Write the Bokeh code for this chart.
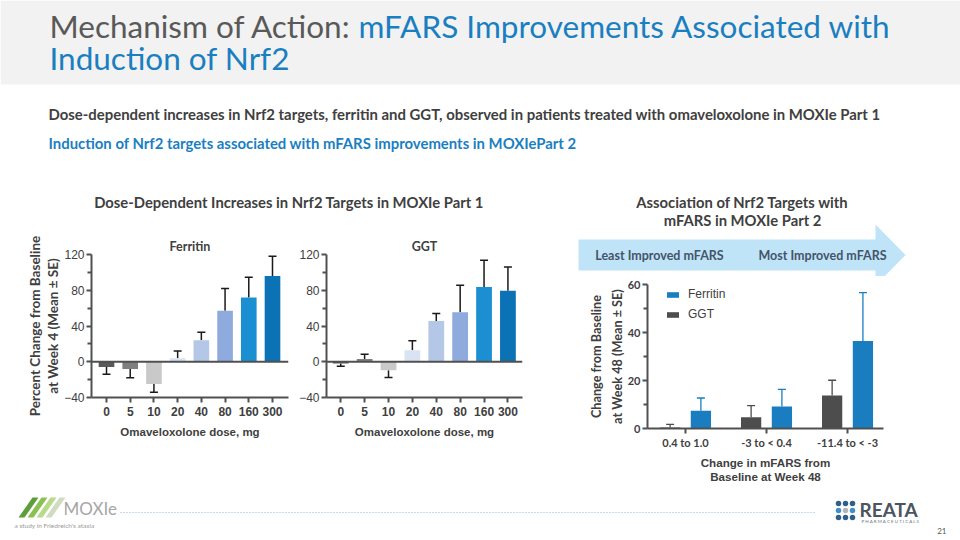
from bokeh.plotting import figure
from bokeh.layouts import column, row
from bokeh.models import (Range1d, FixedTicker, Span, Legend, LegendItem,
                          ColumnDataSource, Whisker, TeeHead)
from bokeh.core.properties import value
from bokeh.embed import file_html
from bokeh.resources import INLINE

# ---------------- data ----------------
doses = ["0", "5", "10", "20", "40", "80", "160", "300"]
ferritin_mean = [-6, -8, -25, 4, 24, 57, 72, 96]
ferritin_se = [8, 10, 9, 8, 9, 25, 22.5, 22]
ggt_mean = [-2, 3, -9.5, 13, 45.5, 55.5, 83.5, 79.5]
ggt_se = [3, 5.5, 8, 10.5, 8.5, 30, 30, 26.5]
dose_colors = ["#595959", "#7f7f7f", "#c9c9c9", "#dae3f3",
               "#b4c7e7", "#8faadc", "#1b8fd1", "#0b72b5"]

mfars_groups = ["0.4 to 1.0", "-3 to < 0.4", "-11.4 to < -3"]
p2_ferritin_mean = [7.4, 9.2, 36.5]
p2_ferritin_se = [5.3, 7.1, 20.1]
p2_ggt_mean = [0.4, 4.7, 13.7]
p2_ggt_se = [1.3, 4.8, 6.4]

left_ticks = [-40, 0, 40, 80, 120]
left_minor = [-20, 20, 60, 100]
right_ticks = [0, 20, 40, 60]
right_minor = [10, 30, 50]

# ---------------- styles ----------------
TXT = "#404040"
BLUE = "#1a7fc1"
AX = "#505050"
CAL = "Lato"
ARL = "Liberation Sans"


def deco(w, h, x0, y0):
    p = figure(width=w, height=h, x_range=Range1d(x0, x0 + w),
               y_range=Range1d(y0 + h, y0), output_backend="svg",
               toolbar_location=None, min_border=0,
               x_axis_type=None, y_axis_type=None)
    p.outline_line_color = None
    p.grid.visible = False
    return p


def txt(p, x, y, s, size, color, bold=False, align="left",
        baseline="middle", font=CAL):
    p.text(x=[x], y=[y], text=[s], text_font=value(font),
           text_font_size=f"{size}px", text_color=color,
           text_font_style="bold" if bold else "normal",
           text_align=align, text_baseline=baseline)


# ---------------- header ----------------
hdr = deco(960, 185, 0, 0)
hdr.quad(left=[0], right=[960], top=[0], bottom=[84],
         fill_color="#f2f2f2", line_color=None)
txt(hdr, 49, 25.5, "Mechanism of Action:", 31.5, "#595959")
txt(hdr, 358, 25.5, "mFARS Improvements Associated with", 31.5, BLUE)
txt(hdr, 49, 57.5, "Induction of Nrf2", 31.5, BLUE)
txt(hdr, 48, 113, "Dose-dependent increases in Nrf2 targets, ferritin and GGT, "
    "observed in patients treated with omaveloxolone in MOXIe Part 1",
    14.9, TXT, bold=True)
txt(hdr, 48, 142, "Induction of Nrf2 targets associated with mFARS improvements "
    "in MOXIePart 2", 14.9, BLUE, bold=True)

# ---------------- left title ----------------
lt = deco(560, 43, 0, 185)
txt(lt, 288.5, 201, "Dose-Dependent Increases in Nrf2 Targets in MOXIe Part 1",
    14.8, TXT, bold=True, align="center")


# ---------------- dose charts ----------------
def dose_chart(mean, se, title, width, bl, br, xs, xe, ylabel=None):
    p = figure(width=width, height=262, x_range=Range1d(xs, xe),
               y_range=Range1d(-40, 120), output_backend="svg",
               toolbar_location=None, min_border_left=bl,
               min_border_right=br, min_border_top=26,
               min_border_bottom=93, title=title)
    p.title.align = "center"
    p.title.text_font = CAL
    p.title.text_font_size = "12.5px"
    p.title.text_font_style = "bold"
    p.title.text_color = TXT
    p.title.standoff = 1
    p.outline_line_color = None
    p.grid.visible = False

    pos = list(range(len(doses)))
    src = ColumnDataSource(dict(x=pos, top=mean, color=dose_colors))
    p.vbar(x="x", top="top", bottom=0, width=0.66, fill_color="color",
           line_color=None, source=src)

    up = [i for i, m in enumerate(mean) if m >= 0]
    dn = [i for i, m in enumerate(mean) if m < 0]
    src_up = ColumnDataSource(dict(x=[pos[i] for i in up],
                                   lo=[mean[i] for i in up],
                                   hi=[mean[i] + se[i] for i in up]))
    src_dn = ColumnDataSource(dict(x=[pos[i] for i in dn],
                                   lo=[mean[i] - se[i] for i in dn],
                                   hi=[mean[i] for i in dn]))
    p.add_layout(Whisker(base="x", lower="lo", upper="hi", source=src_up,
                         line_color="#1a1a1a", line_width=1.5,
                         upper_head=TeeHead(size=8, line_color="#1a1a1a",
                                            line_width=1.5),
                         lower_head=None))
    p.add_layout(Whisker(base="x", lower="lo", upper="hi", source=src_dn,
                         line_color="#1a1a1a", line_width=1.5,
                         lower_head=TeeHead(size=8, line_color="#1a1a1a",
                                            line_width=1.5),
                         upper_head=None))
    p.add_layout(Span(location=0, dimension="width", line_color=AX,
                      line_width=2))

    xa, ya = p.xaxis[0], p.yaxis[0]
    xa.ticker = FixedTicker(ticks=pos)
    xa.major_label_overrides = {i: d for i, d in enumerate(doses)}
    ya.ticker = FixedTicker(ticks=left_ticks, minor_ticks=left_minor)
    for ax in (xa, ya):
        ax.axis_line_width = 2
        ax.axis_line_color = AX
        ax.major_tick_line_width = 2
        ax.major_tick_line_color = AX
        ax.minor_tick_line_width = 2
        ax.minor_tick_line_color = AX
        ax.major_tick_in = 0
        ax.major_tick_out = 5
        ax.minor_tick_in = 0
        ax.minor_tick_out = 4
        ax.major_label_text_font = ARL
        ax.major_label_text_font_size = "12px"
        ax.major_label_text_color = TXT
    xa.minor_tick_line_color = None
    xa.major_label_text_font_style = "bold"
    xa.major_label_standoff = 4
    ya.major_label_standoff = 2
    xa.axis_label = "Omaveloxolone dose, mg"
    xa.axis_label_text_font = ARL
    xa.axis_label_text_font_size = "11.5px"
    xa.axis_label_text_font_style = "bold"
    xa.axis_label_text_color = TXT
    xa.axis_label_standoff = 7
    if ylabel:
        ya.axis_label = ylabel
        ya.axis_label_text_font = CAL
        ya.axis_label_text_font_size = "13.5px"
        ya.axis_label_text_font_style = "bold"
        ya.axis_label_text_color = TXT
        ya.axis_label_standoff = 0
        ya.axis_label_text_line_height = 1.15
    return p


ferr = dose_chart(ferritin_mean, ferritin_se, "Ferritin", 296, 91, 8,
                  -0.633, 7.675,
                  "Percent Change from Baseline\nat Week 4 (Mean \u00b1 SE)")
ggt = dose_chart(ggt_mean, ggt_se, "GGT", 264, 29, 38, -0.596, 7.61)

# ---------------- right top (title + arrow) ----------------
rt = deco(400, 91, 560, 185)
txt(rt, 742, 201, "Association of Nrf2 Targets with", 14.8, TXT, bold=True,
    align="center")
txt(rt, 742, 219, "mFARS in MOXIe Part 2", 14.8, TXT, bold=True,
    align="center")
rt.patch(x=[578, 875, 875, 905, 875, 875, 578],
         y=[239, 239, 224, 254.5, 285, 270, 270],
         fill_color="#bfe4f7", line_color=None)
txt(rt, 659, 255, "Least Improved mFARS", 12.5, "#44546a", bold=True,
    align="center")
txt(rt, 822, 255, "Most Improved mFARS", 12.5, "#44546a", bold=True,
    align="center")

# ---------------- right chart ----------------
rc = figure(width=400, height=214, x_range=Range1d(-0.469, 2.444),
            y_range=Range1d(0, 60), output_backend="svg",
            toolbar_location=None, min_border_left=87, min_border_right=77,
            min_border_top=8, min_border_bottom=62)
rc.outline_line_color = None
rc.grid.visible = False
gpos = list(range(len(mfars_groups)))
FER_C = "#1a7dc0"
GGT_C = "#4d4d4d"
rsrc = ColumnDataSource(dict(
    xg=[g - 0.19 for g in gpos], xf=[g + 0.19 for g in gpos],
    ggt=p2_ggt_mean, fer=p2_ferritin_mean,
    ggt_hi=[m + s for m, s in zip(p2_ggt_mean, p2_ggt_se)],
    fer_hi=[m + s for m, s in zip(p2_ferritin_mean, p2_ferritin_se)]))
rc.add_layout(Whisker(base="xg", lower="ggt", upper="ggt_hi", source=rsrc,
                      line_color=GGT_C, line_width=1.3, lower_head=None,
                      upper_head=TeeHead(size=8, line_color=GGT_C,
                                         line_width=1.3)))
rc.add_layout(Whisker(base="xf", lower="fer", upper="fer_hi", source=rsrc,
                      line_color=FER_C, line_width=1.3, lower_head=None,
                      upper_head=TeeHead(size=8, line_color=FER_C,
                                         line_width=1.3)))
rg = rc.vbar(x="xg", top="ggt", bottom=0, width=0.25, fill_color=GGT_C,
             line_color=None, source=rsrc)
rf = rc.vbar(x="xf", top="fer", bottom=0, width=0.25, fill_color=FER_C,
             line_color=None, source=rsrc)

rxa, rya = rc.xaxis[0], rc.yaxis[0]
rxa.ticker = FixedTicker(ticks=gpos)
rxa.major_label_overrides = {i: g for i, g in enumerate(mfars_groups)}
rya.ticker = FixedTicker(ticks=right_ticks, minor_ticks=right_minor)
for ax in (rxa, rya):
    ax.axis_line_width = 2
    ax.axis_line_color = AX
    ax.major_tick_line_width = 2
    ax.major_tick_line_color = AX
    ax.minor_tick_line_width = 2
    ax.minor_tick_line_color = AX
    ax.major_tick_in = 0
    ax.major_tick_out = 5
    ax.minor_tick_in = 0
    ax.minor_tick_out = 4
    ax.major_label_text_font = CAL
    ax.major_label_text_font_size = "11px"
    ax.major_label_text_font_style = "bold"
    ax.major_label_text_color = TXT
rxa.minor_tick_line_color = None
rxa.major_label_standoff = 2
rya.major_label_standoff = 2
rxa.axis_label = "Change in mFARS from\nBaseline at Week 48"
rxa.axis_label_text_font = ARL
rxa.axis_label_text_font_size = "11.6px"
rxa.axis_label_text_font_style = "bold"
rxa.axis_label_text_color = TXT
rxa.axis_label_standoff = 4
rxa.axis_label_text_line_height = 1.1
rya.axis_label = "Change from Baseline\nat Week 48 (Mean \u00b1 SE)"
rya.axis_label_text_font = CAL
rya.axis_label_text_font_size = "12.7px"
rya.axis_label_text_font_style = "bold"
rya.axis_label_text_color = TXT
rya.axis_label_standoff = 0
rya.axis_label_text_line_height = 1.3

legend = Legend(items=[LegendItem(label="Ferritin", renderers=[rf]),
                       LegendItem(label="GGT", renderers=[rg])],
                location=(18, 107), orientation="vertical",
                glyph_width=15, glyph_height=7, label_height=14,
                spacing=6, padding=0, margin=0, label_standoff=8,
                border_line_color=None, background_fill_alpha=0,
                label_text_font=ARL, label_text_font_size="12px",
                label_text_color=TXT)
rc.add_layout(legend)

# ---------------- footer ----------------
ft = deco(960, 50, 0, 490)
stripe_colors = ["#5c9e3c", "#8cc152", "#b7da8c", "#cfdcc2"]
ft.patches(xs=[[18 + 9 * i, 24 + 9 * i, 38 + 9 * i, 32 + 9 * i] for i in range(4)],
           ys=[[517, 517, 497, 497] for i in range(4)],
           fill_color=stripe_colors, line_color=None)
txt(ft, 63, 508, "MOXIe", 17, "#a6a6a6")
txt(ft, 14, 525, "a study in Friedreich's ataxia", 6.5, "#9a9a9a")
ft.segment(x0=[120], y0=[512], x1=[815], y1=[512], line_color="#8fb4d2",
           line_width=1, line_dash="1 2")
dot_x = [838, 845, 852] * 3
dot_y = [503] * 3 + [510] * 3 + [517] * 3
dot_c = ["#2f5f8a"] * 3 + ["#3f8fcb", "#b5b5b5", "#3f8fcb"] + ["#2f5f8a"] * 3
ft.scatter(x=dot_x, y=dot_y, size=5.5, fill_color=dot_c, line_color=None)
txt(ft, 859, 509, "REATA", 19, "#4a5560", bold=True)
txt(ft, 861, 521, "P H A R M A C E U T I C A L S", 4.5, "#6a7580")
txt(ft, 946, 530, "21", 8, "#595959", align="right")

layout = column(hdr,
                row(column(lt, row(ferr, ggt)), column(row(rt), row(rc))),
                ft)

open("out.html", "w").write(file_html(layout, INLINE))
